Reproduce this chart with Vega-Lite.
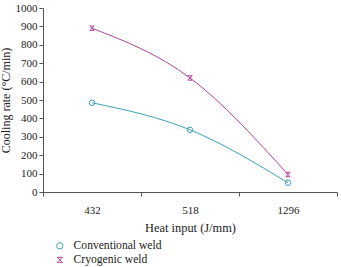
{
  "$schema": "https://vega.github.io/schema/vega-lite/v6.json",
  "width": 294,
  "height": 184,
  "autosize": {"type": "none"},
  "padding": {"left": 43, "top": 8, "right": 4, "bottom": 75},
  "background": "white",
  "config": {
    "font": "Liberation Serif",
    "view": {"stroke": null},
    "axis": {
      "labelFont": "Liberation Serif",
      "titleFont": "Liberation Serif",
      "labelColor": "#222",
      "titleColor": "#222",
      "labelFontSize": 11,
      "titleFontSize": 12,
      "titleFontWeight": "normal",
      "domainColor": "#555",
      "tickColor": "#555",
      "grid": false
    },
    "legend": {
      "labelFont": "Liberation Serif",
      "labelFontSize": 11.6,
      "labelColor": "#222"
    }
  },
  "data": {
    "values": [
      {"heat": 432, "rate": 485, "weld": "Conventional weld"},
      {"heat": 518, "rate": 338, "weld": "Conventional weld"},
      {"heat": 1296, "rate": 50, "weld": "Conventional weld"},
      {"heat": 432, "rate": 890, "weld": "Cryogenic weld"},
      {"heat": 518, "rate": 620, "weld": "Cryogenic weld"},
      {"heat": 1296, "rate": 95, "weld": "Cryogenic weld"}
    ]
  },
  "encoding": {
    "x": {
      "field": "heat",
      "type": "ordinal",
      "sort": "ascending",
      "scale": {"type": "band", "paddingInner": 0, "paddingOuter": 0},
      "axis": {
        "title": "Heat input (J/mm)",
        "titleFontSize": 12.4,
        "labelAngle": 0,
        "tickBand": "extent",
        "labelPadding": 8,
        "titlePadding": 6,
        "tickSize": 4
      }
    },
    "y": {
      "field": "rate",
      "type": "quantitative",
      "scale": {"domain": [0, 1000]},
      "axis": {
        "title": "Cooling rate (°C/min)",
        "format": "d",
        "values": [0, 100, 200, 300, 400, 500, 600, 700, 800, 900, 1000],
        "tickSize": 4,
        "labelPadding": 2,
        "titlePadding": 3
      }
    },
    "color": {
      "field": "weld",
      "type": "nominal",
      "scale": {"domain": ["Conventional weld", "Cryogenic weld"], "range": ["#3d9fb8", "#b1449c"]},
      "legend": {
        "title": null,
        "orient": "none",
        "legendX": 11,
        "legendY": 232,
        "symbolStrokeWidth": 1,
        "rowPadding": 1,
        "labelOffset": 8,
        "symbolSize": 40
      }
    }
  },
  "layer": [
    {
      "mark": {"type": "line", "interpolate": "monotone", "strokeWidth": 1}
    },
    {
      "mark": {"type": "point", "filled": false, "strokeWidth": 1, "size": 30, "opacity": 1},
      "encoding": {
        "shape": {
          "field": "weld",
          "type": "nominal",
          "scale": {
            "domain": ["Conventional weld", "Cryogenic weld"],
            "range": ["circle", "M-0.8,-0.8L0.8,0.8M-0.8,0.8L0.8,-0.8M-0.8,-0.8L0.8,-0.8M-0.8,0.8L0.8,0.8"]
          },
          "legend": null
        }
      }
    }
  ]
}
